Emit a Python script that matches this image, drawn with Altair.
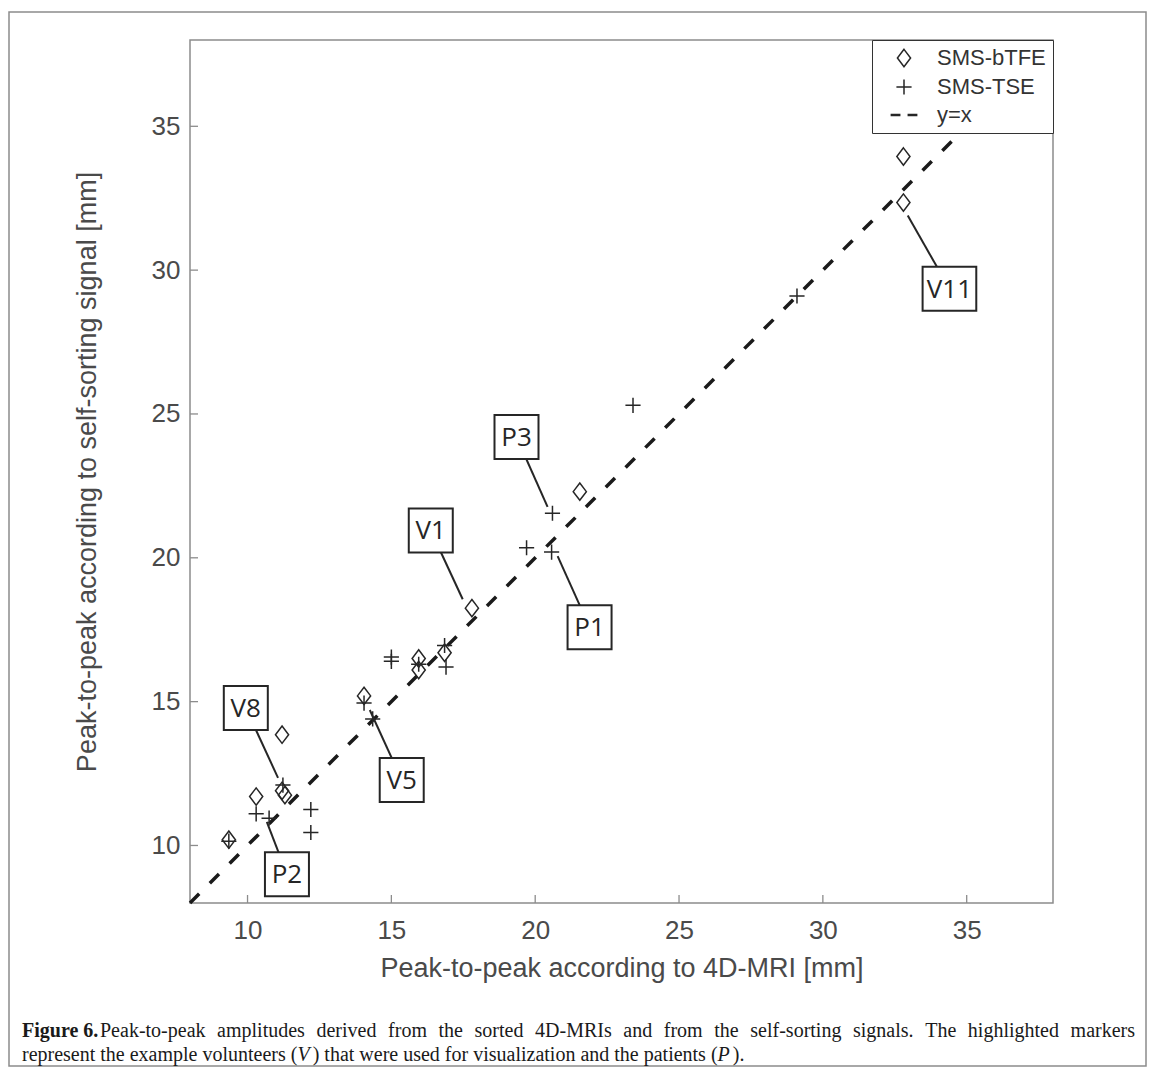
import altair as alt
import pandas as pd

# ---------------- data ----------------
# SMS-bTFE (diamond markers)
btfe_x = [9.35, 10.3, 11.2, 11.2, 11.3, 14.05, 15.95, 15.95, 16.85, 17.8, 21.55, 32.8, 32.8]
btfe_y = [10.2, 11.7, 13.85, 11.9, 11.75, 15.2, 16.5, 16.1, 16.7, 18.25, 22.3, 33.95, 32.35]
# SMS-TSE (plus markers)
tse_x = [9.35, 10.3, 10.75, 11.23, 12.2, 12.2, 14.05, 14.35, 15.0, 15.0, 15.95, 16.9, 16.85,
         19.7, 20.57, 20.6, 23.4, 29.1]
tse_y = [10.15, 11.1, 10.95, 12.1, 11.25, 10.45, 14.95, 14.4, 16.55, 16.4, 16.3, 16.2, 16.95,
         20.35, 20.2, 21.55, 25.3, 29.1]

# annotation boxes (centre of the box) and the marker each one points at
label_text = ["V8", "P2", "V5", "V1", "P3", "P1", "V11"]
label_x = [9.94, 11.37, 15.36, 16.37, 19.35, 21.89, 34.4]
label_y = [14.78, 9.0, 12.28, 20.95, 24.2, 17.59, 29.35]
target_x = [11.06, 10.67, 14.25, 17.48, 20.43, 20.78, 32.95]
target_y = [12.35, 10.82, 14.71, 18.56, 21.77, 20.06, 31.9]

series_names = ["SMS-bTFE", "SMS-TSE", "y=x"]
axis_limits = [8, 38]
tick_values = [10, 15, 20, 25, 30, 35]

x_title = "Peak-to-peak according to 4D-MRI [mm]"
y_title = "Peak-to-peak according to self-sorting signal [mm]"
cap_bold = "Figure 6."
cap_line1 = ("Peak-to-peak amplitudes derived from the sorted 4D-MRIs and from the "
             "self-sorting signals. The highlighted markers")
cap_line2_parts = [("represent the example volunteers (", False), ("V", True),
                   (") that were used for visualization and the patients (", False),
                   ("P", True), (").", False)]

# ---------------- styling ----------------
W = H = 863
PX_PER_UNIT = W / (axis_limits[1] - axis_limits[0])
AXIS_GRAY = "#8c8c8c"
LABEL_GRAY = "#4a4a4a"
INK = "#262626"
SANS = "Liberation Sans"
SERIF = "Liberation Serif"
CAP_SIZE = 20

DIAMOND = "M0,-1L0.76,0L0,1L-0.76,0Z"
PLUS = "M-1,0L1,0M0,-1L0,1"
DASH = ("M-2.0,-0.08L-0.68,-0.08L-0.68,0.08L-2.0,0.08Z"
        "M0.68,-0.08L2.0,-0.08L2.0,0.08L0.68,0.08Z")
BOX2 = "M-1,-1L1,-1L1,1L-1,1Z"
BOX3 = "M-1.22,-1L1.22,-1L1.22,1L-1.22,1Z"

# Times / Liberation Serif advance widths (1/1000 em) for laying out the justified caption
_tw = {" ": 250, "(": 333, ")": 333, "-": 333, ".": 250, ",": 250,
       "A": 722, "B": 667, "C": 667, "D": 722, "E": 611, "F": 556, "G": 722, "H": 722,
       "I": 333, "M": 889, "P": 556, "R": 667, "S": 556, "T": 611, "V": 722,
       "a": 444, "b": 500, "c": 444, "d": 500, "e": 444, "f": 333, "g": 500, "h": 500,
       "i": 278, "j": 278, "k": 500, "l": 278, "m": 778, "n": 500, "o": 500, "p": 500,
       "q": 500, "r": 333, "s": 389, "t": 278, "u": 500, "v": 500, "w": 722, "x": 500,
       "y": 500, "z": 444}
_tw_italic = {"V": 611, "P": 611}


def text_width(s, italic=False):
    table = _tw_italic if italic else {}
    return sum(table.get(c, _tw.get(c, 500)) for c in s) / 1000 * CAP_SIZE


def page_to_data_x(px):
    # page x (pixels) -> data units of the x scale (plot area starts at page x = 190)
    return axis_limits[0] + (px - 190) / PX_PER_UNIT


xscale = alt.Scale(domain=axis_limits, nice=False, zero=False)
yscale = alt.Scale(domain=axis_limits, nice=False, zero=False)

x_axis = alt.Axis(values=tick_values, ticks=False, domain=False, grid=False,
                  labelFont=SANS, labelFontSize=26, labelColor=LABEL_GRAY, labelPadding=14,
                  title=x_title, titleFont=SANS, titleFontSize=27, titleFontWeight="normal",
                  titleColor=LABEL_GRAY, titleX=W / 2, titleY=65, titleBaseline="middle",
                  titleAlign="center")
y_axis = alt.Axis(values=tick_values, ticks=False, domain=False, grid=False,
                  labelFont=SANS, labelFontSize=26, labelColor=LABEL_GRAY, labelPadding=10,
                  title=y_title, titleFont=SANS, titleFontSize=27, titleFontWeight="normal",
                  titleColor=LABEL_GRAY, titleX=-103, titleY=H / 2, titleBaseline="middle",
                  titleAlign="center", titleAngle=-90)


def X(field):
    return alt.X(field, scale=xscale, axis=x_axis)


def Y(field):
    return alt.Y(field, scale=yscale, axis=y_axis)


legend = alt.Legend(title=None, orient="none", legendX=682, legendY=0,
                    fillColor="white", strokeColor="#333333", padding=7, rowPadding=6,
                    labelFont=SANS, labelFontSize=22, labelColor="#333333",
                    symbolStrokeColor=INK, symbolStrokeWidth=1.5, symbolOffset=14,
                    labelOffset=22)

# ---------------- tables ----------------
pts = pd.DataFrame({
    "x": btfe_x + tse_x,
    "y": btfe_y + tse_y,
    "series": [series_names[0]] * len(btfe_x) + [series_names[1]] * len(tse_x),
})
ann = pd.DataFrame({"label": label_text, "lx": label_x, "ly": label_y,
                    "tx": target_x, "ty": target_y})
ref = pd.DataFrame({"v": axis_limits})
ticks = pd.DataFrame({"v": tick_values})
one = pd.DataFrame({"a": [0]})

# justified first caption line: spread words between page x 100 and 1135
words = cap_line1.split(" ")
wws = [text_width(w) for w in words]
gap = (1135 - 100 - sum(wws)) / (len(words) - 1)
pos, cur = [], 100.0
for w in wws:
    pos.append(cur)
    cur += w + gap
line1_df = pd.DataFrame({"t": words, "x": [page_to_data_x(p) for p in pos]})

# second caption line: natural spacing from page x 22
rows2, cur = [], 22.0
for txt, it in cap_line2_parts:
    rows2.append({"t": txt, "x": page_to_data_x(cur), "italic": it})
    cur += text_width(txt, it) + (3 if it else 0)
line2_df = pd.DataFrame(rows2)

# ---------------- layers ----------------
border = alt.Chart(one).mark_rect(fillOpacity=0, stroke=AXIS_GRAY, strokeWidth=1.5).encode(
    x=alt.value(-181), x2=alt.value(956), y=alt.value(-28), y2=alt.value(1026))

identity = alt.Chart(ref).mark_line(color="#1a1a1a", strokeWidth=3.5, strokeDash=[13, 15],
                                    strokeCap="butt").encode(x=X("v:Q"), y=Y("v:Q"))

leaders = alt.Chart(ann).mark_rule(color=INK, strokeWidth=2).encode(
    x=X("tx:Q"), y=Y("ty:Q"), x2="lx:Q", y2="ly:Q")

boxes = alt.Chart(ann).transform_calculate(
    box=f"length(datum.label) > 2 ? '{BOX3}' : '{BOX2}'"
).mark_point(filled=True, fill="white", fillOpacity=1, stroke=INK, strokeWidth=2,
             size=44 * 44, opacity=1).encode(
    x=X("lx:Q"), y=Y("ly:Q"), shape=alt.Shape("box:N", scale=None))

box_text = alt.Chart(ann).mark_text(font="Open Sans", fontSize=26, color=INK,
                                    baseline="middle", align="center", dy=1).encode(
    x=X("lx:Q"), y=Y("ly:Q"), text="label:N")

points = alt.Chart(pts).mark_point(filled=False, color=INK, opacity=1, strokeWidth=1.5).encode(
    x=X("x:Q"), y=Y("y:Q"),
    shape=alt.Shape("series:N", scale=alt.Scale(domain=series_names, range=[DIAMOND, PLUS, DASH]),
                    legend=legend),
    size=alt.Size("series:N", scale=alt.Scale(domain=series_names, range=[300, 160, 400]),
                  legend=legend),
)

xticks = alt.Chart(ticks).mark_rule(color=AXIS_GRAY, strokeWidth=1.3).encode(
    x=X("v:Q"), y=alt.value(H), y2=alt.value(H - 8))
yticks = alt.Chart(ticks).mark_rule(color=AXIS_GRAY, strokeWidth=1.3).encode(
    y=Y("v:Q"), x=alt.value(0), x2=alt.value(8))

cap_style = dict(font=SERIF, fontSize=CAP_SIZE, color="#1a1a1a", align="left", baseline="middle")
cap_a = alt.Chart(pd.DataFrame({"t": [cap_bold]})).mark_text(fontWeight="bold", **cap_style).encode(
    text="t:N", x=alt.value(22 - 190), y=alt.value(991))
cap_b = alt.Chart(line1_df).mark_text(**cap_style).encode(
    text="t:N", x=X("x:Q"), y=alt.value(991))
cap_c = alt.Chart(line2_df).transform_filter("!datum.italic").mark_text(**cap_style).encode(
    text="t:N", x=X("x:Q"), y=alt.value(1015))
cap_d = alt.Chart(line2_df).transform_filter("datum.italic").mark_text(
    fontStyle="italic", **cap_style).encode(text="t:N", x=X("x:Q"), y=alt.value(1015))

chart = alt.layer(
    border, identity, leaders, boxes, box_text, points, xticks, yticks, cap_a, cap_b, cap_c, cap_d
).properties(
    width=W, height=H,
    autosize=alt.AutoSizeParams(type="none"),
    padding={"left": 182, "top": 32, "right": 94, "bottom": 166},
    background="white",
).configure_view(stroke=AXIS_GRAY, strokeWidth=1.5)

chart.save("out.html", embed_options={"renderer": "svg", "actions": False})
